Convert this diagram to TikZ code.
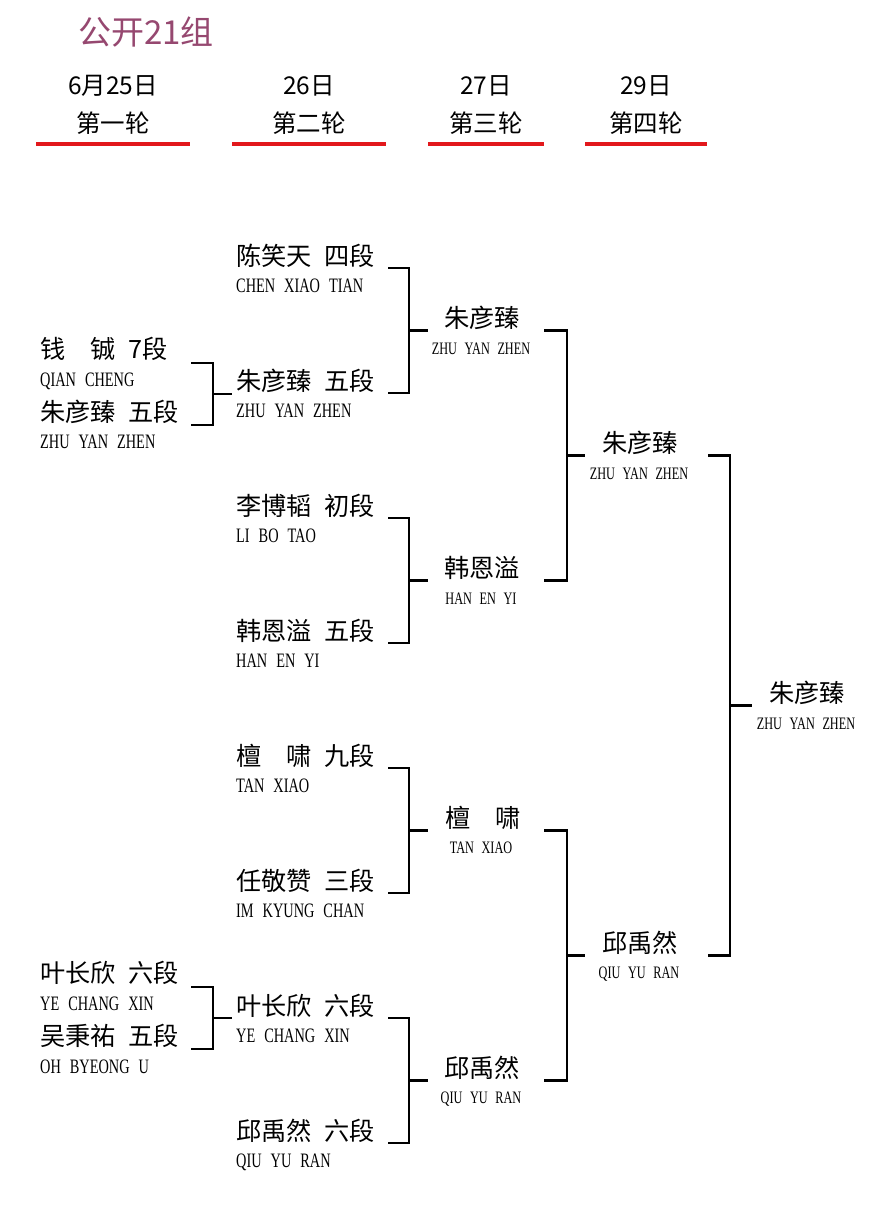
\documentclass[tikz,border=0pt]{standalone}
\usepackage{fontspec}
\newfontfamily\cjk{Noto Sans CJK SC}
\newfontfamily\pyfont[FakeStretch=0.7,WordSpace=2.5]{Liberation Serif}
\definecolor{titlec}{RGB}{150,72,112}
\definecolor{redc}{RGB}{226,24,28}
\newcommand\mybrk[6]{%
 \coordinate (#1t) at (#2,#3);
 \coordinate (#1v) at (#4,#5);
 \coordinate (#1b) at (#2,#5);
 \coordinate (#1m) at (#4,{(#3+#5)/2});
 \coordinate (#1e) at (#6,{(#3+#5)/2});
 \draw[br] (#1t) -| (#1v) -- (#1b);
 \draw[br] (#1m) -- (#1e);
}
\begin{document}
\begin{tikzpicture}[x=1pt,y=-1pt,
  cn/.style={inner sep=0pt, font=\cjk\fontsize{25.2}{28}\selectfont, anchor=base west},
  cnc/.style={cn, anchor=base},
  py/.style={inner sep=0pt, font=\pyfont\fontsize{20.5}{24}\selectfont, anchor=base west},
  pys/.style={inner sep=0pt, font=\pyfont\fontsize{17.5}{20}\selectfont, anchor=base},
  br/.style={line width=2.2pt, black},
  redline/.style={line width=4pt, redc},
  hdr/.style={inner sep=0pt, font=\cjk\fontsize{24.5}{28}\selectfont, anchor=base}]
\useasboundingbox (0,0) rectangle (889,1223);
\fill[white] (0,0) rectangle (889,1223);

% title
\node[inner sep=0pt, anchor=base west, font=\cjk\fontsize{33}{38}\selectfont, text=titlec] (title) at (78,44.5) {公开21组};

% headers
\node[hdr] (d1) at (113,94) {6月25日};
\node[hdr] (r1) at (113,132) {第一轮};
\node[hdr] (d2) at (309,94) {26日};
\node[hdr] (r2) at (309,132) {第二轮};
\node[hdr] (d3) at (486,94) {27日};
\node[hdr] (r3) at (486,132) {第三轮};
\node[hdr] (d4) at (646,94) {29日};
\node[hdr] (r4) at (646,132) {第四轮};
\coordinate (u1a) at (36,144); \coordinate (u1b) at (190,144);
\coordinate (u2a) at (232,144); \coordinate (u2b) at (386,144);
\coordinate (u3a) at (428,144); \coordinate (u3b) at (544,144);
\coordinate (u4a) at (585,144); \coordinate (u4b) at (707,144);
\draw[redline] (u1a) -- (u1b);
\draw[redline] (u2a) -- (u2b);
\draw[redline] (u3a) -- (u3b);
\draw[redline] (u4a) -- (u4b);

% round 1
\node[cn] (p11) at (40,358.5) {钱\hspace{1em}铖\hspace{0.5em}7段};
\node[py] (p11e) at (40,386.8) {QIAN CHENG};
\node[cn] (p12) at (40,421.5) {朱彦臻\hspace{0.5em}五段};
\node[py] (p12e) at (40,448.8) {ZHU YAN ZHEN};
\node[cn] (p13) at (40,982.5) {叶长欣\hspace{0.5em}六段};
\node[py] (p13e) at (40,1010.8) {YE CHANG XIN};
\node[cn] (p14) at (40,1045.5) {吴秉祐\hspace{0.5em}五段};
\node[py] (p14e) at (40,1073.8) {OH BYEONG U};

% round 2
\node[cn] (q1) at (236,265.5) {陈笑天\hspace{0.5em}四段};
\node[py] (q1e) at (236,292.8) {CHEN XIAO TIAN};
\node[cn] (q2) at (236,390.5) {朱彦臻\hspace{0.5em}五段};
\node[py] (q2e) at (236,417.8) {ZHU YAN ZHEN};
\node[cn] (q3) at (236,515.5) {李博韬\hspace{0.5em}初段};
\node[py] (q3e) at (236,542.8) {LI BO TAO};
\node[cn] (q4) at (236,640.5) {韩恩溢\hspace{0.5em}五段};
\node[py] (q4e) at (236,667.8) {HAN EN YI};
\node[cn] (q5) at (236,765.5) {檀\hspace{1em}啸\hspace{0.5em}九段};
\node[py] (q5e) at (236,792.8) {TAN XIAO};
\node[cn] (q6) at (236,890.5) {任敬赞\hspace{0.5em}三段};
\node[py] (q6e) at (236,917.8) {IM KYUNG CHAN};
\node[cn] (q7) at (236,1015.5) {叶长欣\hspace{0.5em}六段};
\node[py] (q7e) at (236,1042.8) {YE CHANG XIN};
\node[cn] (q8) at (236,1140.5) {邱禹然\hspace{0.5em}六段};
\node[py] (q8e) at (236,1167.8) {QIU YU RAN};

% round 3
\node[cnc] (s1) at (482,327.5) {朱彦臻};
\node[pys] (s1e) at (481,354.6) {ZHU YAN ZHEN};
\node[cnc] (s2) at (482,577.5) {韩恩溢};
\node[pys] (s2e) at (481,604.6) {HAN EN YI};
\node[cnc] (s3) at (483,827.5) {檀\hspace{1em}啸};
\node[pys] (s3e) at (481,853.6) {TAN XIAO};
\node[cnc] (s4) at (482,1077.5) {邱禹然};
\node[pys] (s4e) at (481,1103.6) {QIU YU RAN};

% round 4
\node[cnc] (f1) at (640,452.5) {朱彦臻};
\node[pys] (f1e) at (639,479.6) {ZHU YAN ZHEN};
\node[cnc] (f2) at (640,952.5) {邱禹然};
\node[pys] (f2e) at (639,978.6) {QIU YU RAN};

% winner
\node[cnc] (w) at (807,702.5) {朱彦臻};
\node[pys] (we) at (806,729.6) {ZHU YAN ZHEN};

% brackets
\mybrk{ka}{191}{363}{213}{425}{232}
\mybrk{kb}{191}{987}{213}{1049}{232}
\mybrk{ma}{388}{268}{409}{393}{428}
\mybrk{mb}{388}{518}{409}{643}{428}
\mybrk{mc}{388}{768}{409}{893}{428}
\mybrk{md}{388}{1018}{409}{1143}{428}
\mybrk{na}{544}{330.5}{567}{580.5}{585}
\mybrk{nb}{544}{830.5}{567}{1080.5}{585}
\mybrk{oa}{708}{455.5}{730}{955.5}{752}
\end{tikzpicture}
\end{document}
